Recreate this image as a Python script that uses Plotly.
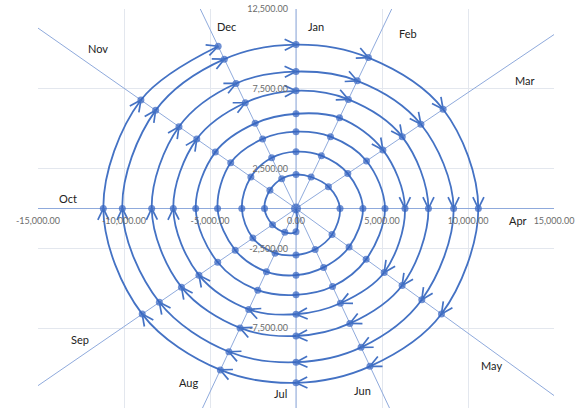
import math
import plotly.graph_objects as go

# ---------------- data ----------------
MONTHS = ["Jan", "Feb", "Mar", "Apr", "May", "Jun",
          "Jul", "Aug", "Sep", "Oct", "Nov", "Dec"]
# direction of each month spoke (degrees clockwise from straight up, data space)
MONTH_ANGLE = [0, 24, 54, 90, 128, 156.5, 180, 203.5, 233.5, 270, 307, 336]

# spiral values (radius) by year ring, Jan..Dec
START_MONTH = "Jun"          # spiral starts at the origin
START_VALUE = 0
YEAR1 = [None, None, None, None, None, None, 1450, 1630, 1700, 1830, 1900, 2040]
YEAR2 = [2125, 2160, 2330, 2558, 2658, 2794, 2917, 3050, 3120, 3150, 3285, 3475]
YEAR3 = [3563, 3626, 3723, 3890, 3917, 4025, 4180, 4316, 4395, 4560, 4754, 4772]
YEAR4 = [4813, 4929, 5070, 5174, 5177, 5330, 5410, 5579, 5663, 5831, 5873, 5839]
YEAR5 = [5938, 6219, 6246, 6337, 6506, 6472, 6625, 6893, 7020, 7134, 7224, 7252]
YEAR6 = [7375, 7484, 7638, 7700, 7827, 7853, 7990, 8159, 8285, 8390, 8520, 8577]
YEAR7 = [8580, 8759, 8977, 9165, 9281, 9486, 9630, 9787, 9883, 10099, 10218, 10245]
YEAR8 = [10270, 10348, 10574, 10600, 10732, 10782, 10920, 11030, 11124, 11203, 11291, 11128]
YEARS = [YEAR1, YEAR2, YEAR3, YEAR4, YEAR5, YEAR6, YEAR7, YEAR8]

# arrowheads are drawn from this point of the spiral onwards
ARROW_FROM_MONTH = "Mar"
ARROW_FROM_YEAR = 5

X_TICKS = [-15000, -10000, -5000, 0, 5000, 10000, 15000]
Y_TICKS = [-12500, -7500, -2500, 2500, 7500, 12500]

# -------------- layout constants --------------
W, H = 578, 411
ML, MR, MT, MB = 38, 24, 9, 3
PLOT_W = W - ML - MR
PLOT_H = H - MT - MB
XR = [X_TICKS[0], X_TICKS[-1]]
YR = [Y_TICKS[0], Y_TICKS[-1]]
SX = PLOT_W / (XR[1] - XR[0])
SY = PLOT_H / (YR[1] - YR[0])

# month label anchor points (data coordinates)
LABEL_XY = [(1163, 11435), (6512, 10934), (13314, 8051), (12907, -721),
            (11395, -9868), (3837, -11372), (-930, -11560), (-6279, -10933),
            (-12558, -8177), (-13256, 658), (-11512, 10056), (-4012, 11435)]

BLUE = "#4472c4"
DOT = "#3363c0"
SPOKE = "#8faadc"

# -------------- build spiral --------------
seq = [(MONTHS.index(START_MONTH), START_VALUE, 1)]
for yi, vals in enumerate(YEARS):
    for mi, v in enumerate(vals):
        if v is not None:
            seq.append((mi, v, yi + 1))

xs, ys = [], []
for mi, v, _ in seq:
    a = math.radians(MONTH_ANGLE[mi])
    xs.append(v * math.sin(a))
    ys.append(v * math.cos(a))

arrow_start = next(i for i, (mi, v, yr) in enumerate(seq)
                   if yr == ARROW_FROM_YEAR and MONTHS[mi] == ARROW_FROM_MONTH)

# tangent heading (screen space, clockwise from up) at each arrow point
ax, ay, heading = [], [], []
for i in range(arrow_start, len(seq)):
    j0 = i - 1
    j1 = i + 1 if i + 1 < len(seq) else i
    dx = (xs[j1] - xs[j0]) * SX
    dy = (ys[j1] - ys[j0]) * SY
    h = math.degrees(math.atan2(dx, dy))
    if j1 == i:
        h += 15
    ax.append(xs[i]); ay.append(ys[i]); heading.append(h)

fig = go.Figure()

# month spokes
sx_, sy_ = [], []
for ang in MONTH_ANGLE:
    a = math.radians(ang)
    L = 40000
    sx_ += [0, L * math.sin(a), None]
    sy_ += [0, L * math.cos(a), None]
fig.add_trace(go.Scatter(x=sx_, y=sy_, mode="lines",
                         line=dict(color=SPOKE, width=1), hoverinfo="skip"))

# spiral
sizes = [10] + [7] * (len(xs) - 1)
fig.add_trace(go.Scatter(x=xs, y=ys, mode="lines+markers",
                         line=dict(color=BLUE, width=1.8, shape="spline", smoothing=1),
                         marker=dict(color=DOT, size=sizes, line=dict(width=0)),
                         hoverinfo="skip"))

# arrowheads: two arms per arrow, tip on the point, arms trailing back
ARM = 9
HALF = 26
for sgn in (-1, 1):
    fig.add_trace(go.Scatter(
        x=ax, y=ay, mode="markers", hoverinfo="skip",
        marker=dict(symbol="line-ns-open", size=ARM,
                    angle=[h + sgn * HALF for h in heading],
                    standoff=ARM * 0.7,
                    color=BLUE, line=dict(color=BLUE, width=1.7))))

# month labels
for m, (lx, ly) in zip(MONTHS, LABEL_XY):
    fig.add_annotation(x=lx, y=ly, text=m, showarrow=False,
                       font=dict(family="Lato, Arial", size=11, color="#222"))

tick_font = dict(family="Lato, Arial", size=9, color="#6b6b6b")
fig.update_xaxes(range=XR, tickvals=X_TICKS, ticktext=[f"{v:,.2f}" for v in X_TICKS],
                 anchor="free", position=0.5, showgrid=True, gridcolor="#e3e7ee",
                 gridwidth=1, zeroline=False, showline=False, ticks="",
                 tickfont=tick_font, automargin=False, ticklabelstandoff=5,
                 fixedrange=True)
fig.update_yaxes(range=YR, tickvals=Y_TICKS, ticktext=[f"{v:,.2f}" for v in Y_TICKS],
                 anchor="free", position=0.5, showgrid=True, gridcolor="#e3e7ee",
                 gridwidth=1, zeroline=False, showline=False, ticks="",
                 tickfont=tick_font, automargin=False, ticklabelstandoff=8,
                 fixedrange=True)
fig.update_layout(width=W, height=H, margin=dict(l=ML, r=MR, t=MT, b=MB),
                  showlegend=False, plot_bgcolor="white", paper_bgcolor="white")

fig.write_html("out.html")
